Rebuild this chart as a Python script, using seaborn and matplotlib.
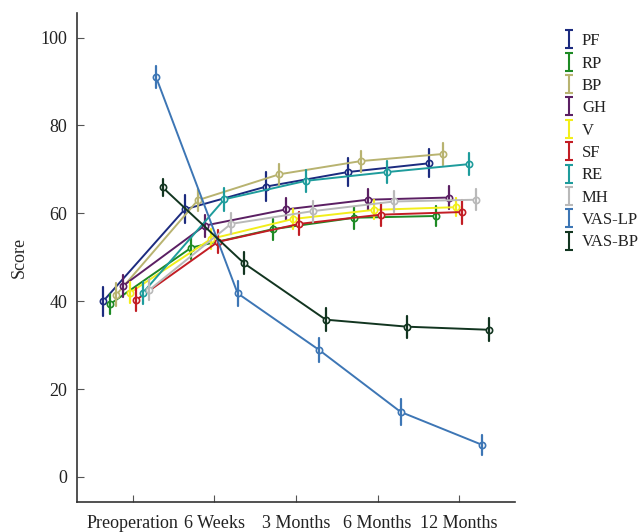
import numpy as np
import pandas as pd
import matplotlib
matplotlib.use("Agg")
import matplotlib.pyplot as plt
from matplotlib.path import Path
from matplotlib.lines import Line2D
import seaborn as sns

# ---------------- data ----------------
categories = ["Preoperation", "6 Weeks", "3 Months", "6 Months", "12 Months"]
series_names = ["PF", "RP", "BP", "GH", "V", "SF", "RE", "MH", "VAS-LP", "VAS-BP"]

PF = [40.0, 60.9, 66.1, 69.4, 71.4]
RP = [39.3, 52.2, 56.4, 59.0, 59.4]
BP = [41.5, 63.0, 68.9, 71.9, 73.5]
GH = [43.5, 57.2, 60.9, 63.1, 63.6]
V = [41.9, 54.2, 58.7, 60.8, 61.4]
SF = [40.3, 53.5, 57.6, 59.7, 60.3]
RE = [41.9, 63.2, 67.4, 69.4, 71.2]
MH = [42.6, 57.6, 60.5, 62.7, 63.1]
VAS_LP = [91.0, 41.8, 28.9, 14.8, 7.3]
VAS_BP = [65.9, 48.6, 35.8, 34.2, 33.5]

PF_err = [3.3, 3.2, 3.3, 3.2, 3.2]
RP_err = [2.3, 2.5, 2.4, 2.5, 2.2]
BP_err = [2.6, 2.5, 2.4, 2.4, 2.5]
GH_err = [2.5, 2.5, 2.5, 2.4, 2.6]
V_err = [2.4, 2.3, 2.3, 2.2, 2.0]
SF_err = [2.6, 2.6, 2.6, 2.6, 2.7]
RE_err = [2.5, 2.6, 2.5, 2.5, 2.5]
MH_err = [2.4, 2.4, 2.4, 2.3, 2.4]
VAS_LP_err = [2.5, 2.8, 2.8, 3.0, 2.2]
VAS_BP_err = [2.0, 2.5, 2.6, 2.5, 2.6]

colors = ["#1c2b7f", "#1d8a24", "#b8b370", "#5b1f63", "#f2ee1b",
          "#c21d24", "#1e9c9c", "#b9b9b9", "#3d76b5", "#123520"]

means = [PF, RP, BP, GH, V, SF, RE, MH, VAS_LP, VAS_BP]
errs = [PF_err, RP_err, BP_err, GH_err, V_err, SF_err, RE_err, MH_err,
        VAS_LP_err, VAS_BP_err]

# table: lower and upper bound per point -> mean is the point, range is the error bar
rows = []
for name, m_list, e_list in zip(series_names, means, errs):
    for cat, m, e in zip(categories, m_list, e_list):
        rows.append({"Time": cat, "Scale": name, "Score": m - e})
        rows.append({"Time": cat, "Scale": name, "Score": m + e})
df = pd.DataFrame(rows)
palette = dict(zip(series_names, colors))

# ---------------- plot ----------------
sns.set_style("ticks")
plt.rcParams["font.family"] = ["Liberation Serif", "DejaVu Serif"]

fig = plt.figure(figsize=(6.43, 5.32), dpi=100)
ax = fig.add_axes([77 / 643, 1 - 502 / 532, (515 - 77) / 643, (502 - 13) / 532])

sns.pointplot(data=df, x="Time", y="Score", hue="Scale", order=categories,
              hue_order=series_names, palette=palette, dodge=0.73,
              markers="o", linestyles="-", errorbar=("pi", 100),
              capsize=0, err_kws={"linewidth": 1.6}, linewidth=1.4,
              markersize=4.5, markeredgewidth=1.2, legend=False, ax=ax)

for ln in ax.lines:
    if ln.get_marker() not in (None, "None", ""):
        ln.set_markerfacecolor("white")

ax.set_xlim(-0.686, 4.686)
ax.set_ylim(-5.7, 105.6)
ax.set_yticks([0, 20, 40, 60, 80, 100])
ax.set_xlabel("")
ax.set_ylabel("Score", fontsize=13, labelpad=9)
ax.tick_params(axis="both", direction="in", length=5, width=0.8,
               labelsize=13, color="#555555", labelcolor="#222222")
ax.tick_params(axis="y", pad=7)
ax.tick_params(axis="x", pad=9)
sns.despine(ax=ax)
for s in ["left", "bottom"]:
    ax.spines[s].set_linewidth(1.2)
    ax.spines[s].set_color("#333333")

# I-beam legend markers
ibeam = Path([(-0.4, 1), (0.4, 1), (0, 1), (0, -1), (-0.4, -1), (0.4, -1)],
             [Path.MOVETO, Path.LINETO, Path.MOVETO, Path.LINETO,
              Path.MOVETO, Path.LINETO])
handles = [Line2D([], [], color=c, marker=ibeam, markersize=13,
                  markeredgewidth=1.5, linestyle="None") for c in colors]
fig.legend(handles, series_names, loc="upper left",
           bbox_to_anchor=(552 / 643, 1 - 25 / 532), frameon=False,
           fontsize=12, handlelength=1.0, handletextpad=0.3,
           labelspacing=0.38, borderpad=0, labelcolor="#222222")

fig.savefig("out.png", dpi=100)
